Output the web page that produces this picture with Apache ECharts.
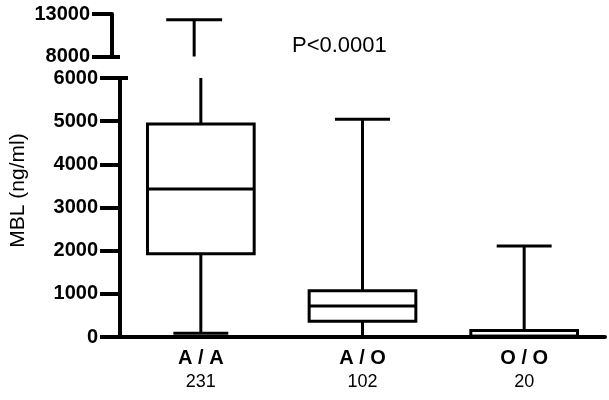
<!DOCTYPE html>
<html>
<head>
<meta charset="utf-8">
<script src="https://cdn.jsdelivr.net/npm/echarts@6/dist/echarts.min.js"></script>
<style>html,body{margin:0;padding:0;background:#fff}#c{width:609px;height:400px}</style>
</head>
<body>
<div id="c"></div>
<script>
const categories = ['A / A', 'A / O', 'O / O'];
const counts = ['231', '102', '20'];
const mins = [86, 10, 0];
const q1s = [1930, 364, 20];
const medians = [3430, 718, 20];
const q3s = [4935, 1072, 150];
const maxs = [12330, 5045, 2110];
const lowerTicks = [0, 1000, 2000, 3000, 4000, 5000, 6000];
const upperTicks = [8000, 13000];
const pText = 'P<0.0001';
const yName = 'MBL (ng/ml)';

const FONT = 'Liberation Sans, Arial, sans-serif';
const data = categories.map((c, i) => [i, mins[i], q1s[i], medians[i], q3s[i], maxs[i]]);

function renderBox(params, api) {
  const i = api.value(0);
  const band = api.size([1, 0])[0];
  const boxW = band * 0.66, capW = band * 0.34;
  const cx = api.coord([i, 0])[0];
  const y = v => api.coord([i, v])[1];
  const yMin = y(api.value(1)), yQ1 = y(api.value(2)), yMed = y(api.value(3)), yQ3 = y(api.value(4)), yMax = y(api.value(5));
  const st = { stroke: '#000', lineWidth: 3, fill: null };
  const line = (x1, y1, x2, y2) => ({ type: 'line', shape: { x1, y1, x2, y2 }, style: st });
  return {
    type: 'group',
    children: [
      line(cx, yQ3, cx, yMax),
      line(cx, yQ1, cx, yMin),
      line(cx - capW / 2, yMax, cx + capW / 2, yMax),
      line(cx - capW / 2, yMin, cx + capW / 2, yMin),
      { type: 'rect', shape: { x: cx - boxW / 2, y: yQ3, width: boxW, height: yQ1 - yQ3 }, style: { stroke: '#000', lineWidth: 3, fill: 'none' } },
      line(cx - boxW / 2, yMed, cx + boxW / 2, yMed)
    ]
  };
}

const axisLabelStyle = { color: '#000', fontFamily: FONT, fontWeight: 'bold', fontSize: 20, formatter: v => String(v) };
const chart = echarts.init(document.getElementById('c'), null, { renderer: 'canvas' });
chart.setOption({
  animation: false,
  backgroundColor: '#fff',
  title: {
    text: pText, left: 287, top: 30,
    textStyle: { fontFamily: FONT, fontWeight: 'normal', fontSize: 22, color: '#000' }
  },
  grid: [
    { left: 112, right: 4, top: 14, height: 42.5 },
    { left: 112, right: 4, top: 78, height: 259 }
  ],
  xAxis: [
    { type: 'category', gridIndex: 0, data: categories, show: false },
    {
      type: 'category', gridIndex: 1, data: categories,
      axisLine: { lineStyle: { color: '#000', width: 4 } },
      axisTick: { alignWithLabel: true, length: 8, lineStyle: { color: '#000', width: 4 } },
      axisLabel: {
        margin: 9,
        formatter: (v, i) => '{a|' + v + '}\n{b|' + counts[i] + '}',
        rich: {
          a: { fontFamily: FONT, fontWeight: 'bold', fontSize: 20, color: '#000', lineHeight: 24 },
          b: { fontFamily: FONT, fontWeight: 'normal', fontSize: 18, color: '#000', lineHeight: 24 }
        }
      }
    }
  ],
  yAxis: [
    {
      type: 'value', gridIndex: 0, min: 8000, max: 13000, interval: 5000, position: 'left',
      splitLine: { show: false },
      axisLine: { show: true, lineStyle: { color: '#000', width: 4 } },
      axisTick: { show: true, length: 20, customValues: upperTicks, lineStyle: { color: '#000', width: 4 } },
      axisLabel: Object.assign({ margin: 22, customValues: upperTicks }, axisLabelStyle)
    },
    {
      type: 'value', gridIndex: 1, min: 0, max: 6000, interval: 1000, position: 'left',
      splitLine: { show: false },
      axisLine: { show: true, lineStyle: { color: '#000', width: 4 } },
      axisTick: { show: true, length: 20, lineStyle: { color: '#000', width: 4 } },
      axisLabel: Object.assign({ margin: 22 }, axisLabelStyle),
      name: yName, nameLocation: 'middle', nameRotate: 90, nameGap: 91,
      nameTextStyle: { fontFamily: FONT, fontSize: 21, color: '#000', padding: [0, 0, 0, 34] }
    },
    {
      type: 'value', gridIndex: 0, min: 8000, max: 13000, position: 'left', offset: 0,
      splitLine: { show: false }, axisLine: { show: false }, axisLabel: { show: false },
      axisTick: { show: true, inside: true, length: 8, customValues: [8000], lineStyle: { color: '#000', width: 4 } }
    },
    {
      type: 'value', gridIndex: 1, min: 0, max: 6000, position: 'left', offset: 0,
      splitLine: { show: false }, axisLine: { show: false }, axisLabel: { show: false },
      axisTick: { show: true, inside: true, length: 8, customValues: [6000], lineStyle: { color: '#000', width: 4 } }
    }
  ],
  series: [
    { type: 'custom', xAxisIndex: 0, yAxisIndex: 0, clip: true, renderItem: renderBox, data: data,
      encode: { x: 0, y: [1, 2, 3, 4, 5] } },
    { type: 'custom', xAxisIndex: 1, yAxisIndex: 1, clip: true, renderItem: renderBox, data: data,
      encode: { x: 0, y: [1, 2, 3, 4, 5] } }
  ]
});
</script>
</body>
</html>
